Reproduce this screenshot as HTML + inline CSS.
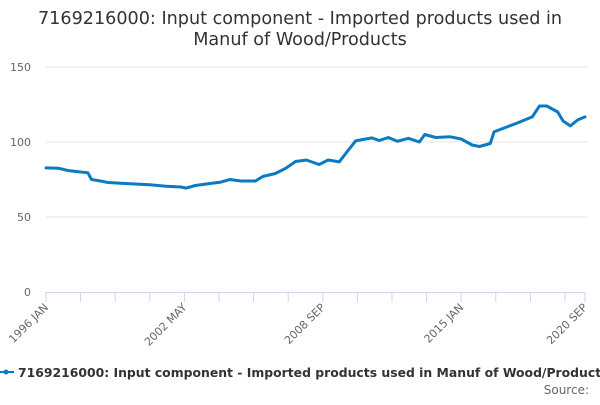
<!DOCTYPE html>
<html><head><meta charset="utf-8"><style>
body{margin:0;background:#fff;}
svg text{font-family:"DejaVu Sans","Liberation Sans",sans-serif;}
</style></head><body>
<svg id="chart" width="600" height="400" xmlns="http://www.w3.org/2000/svg">
<text x="300" y="24" text-anchor="middle" font-size="17.6" fill="#333">7169216000: Input component - Imported products used in</text>
<text x="300" y="45" text-anchor="middle" font-size="17.6" fill="#333">Manuf of Wood/Products</text>
<g id="grid"></g><g id="yticks"></g><g id="xaxis"></g><g id="series"></g>
<g>
<line x1="0" y1="372" x2="14" y2="372" stroke="#0b7bc1" stroke-width="2"/>
<circle cx="6" cy="372" r="2.5" fill="#0b7bc1"/>
<text x="18" y="377" font-size="12.4" font-weight="bold" fill="#333">7169216000: Input component - Imported products used in Manuf of Wood/Products</text>
</g>
<text x="589" y="394" text-anchor="end" font-size="12" fill="#666">Source:</text>
</svg>
<script>
const dates=["1996-01","1996-08","1997-01","1997-08","1997-12","1998-02","1998-07","1998-11","1999-06","2000-02","2000-10","2001-07","2002-03","2002-06","2002-11","2003-05","2004-01","2004-06","2004-12","2005-08","2005-12","2006-07","2007-01","2007-06","2007-12","2008-07","2008-12","2009-06","2009-10","2010-03","2010-12","2011-04","2011-09","2012-02","2012-08","2013-02","2013-05","2013-11","2014-07","2015-01","2015-07","2015-11","2016-05","2016-07","2017-02","2017-08","2018-04","2018-08","2018-12","2019-06","2019-09","2020-01","2020-05","2020-09"];
const values=[82.7,82.5,81,80,79.5,75,74,73,72.5,72,71.5,70.5,70,69.3,71,72,73.3,75,74,74,77,79,82.7,87,88,85,88,86.7,93,100.7,102.7,101,103,100.5,102.5,100,105,103,103.5,102,98,97,99,106.7,110,112.7,116.7,124,124,120,114,110.7,114.7,116.7];
const yTicks=[0,50,100,150];
const xLabels=["1996 JAN","2002 MAY","2008 SEP","2015 JAN","2020 SEP"];
const xLabelMonths=[0,76,152,228,296];
const NS="http://www.w3.org/2000/svg";
const x0=46,x1=585,y0=292,ymax=150,ytop=67,totalM=296;
function mi(d){const[a,b]=d.split("-").map(Number);return (a-1996)*12+(b-1);}
function X(m){return x0+(x1-x0)*m/totalM;}
function Y(v){return y0-(y0-ytop)*v/ymax;}
function mk(t,p,a){const e=document.createElementNS(NS,t);for(const k in a)e.setAttribute(k,a[k]);p.appendChild(e);return e;}
const grid=document.getElementById("grid"),yt=document.getElementById("yticks");
yTicks.forEach(v=>{
 if(v>0){const l=mk("line",grid,{x1:x0,x2:x1+3,y1:Y(v),y2:Y(v),stroke:"#e6e6e6"});
 
 }
 const t=mk("text",yt,{x:31,y:Y(v)+4,"text-anchor":"end","font-size":"11",fill:"#666"});t.textContent=v;
 
 
});
const xa=document.getElementById("xaxis");
const ax=mk("line",xa,{x1:x0,x2:x1,y1:y0+0.5,y2:y0+0.5,stroke:"#ccd6eb"});


const tm=[];for(let m=0;m<totalM;m+=19)tm.push(m);tm.push(totalM);
tm.forEach(m=>{const l=mk("line",xa,{x1:X(m),x2:X(m),y1:y0,y2:y0+10,stroke:"#ccd6eb"});
 
 });
xLabels.forEach((s,i)=>{const x=X(xLabelMonths[i]);const t=mk("text",xa,{x:x+3,y:y0+16,"text-anchor":"end","font-size":"11",fill:"#666",transform:`rotate(-45 ${x+3} ${y0+16})`});t.textContent=s;
 
 });
const s=document.getElementById("series");
const pts=dates.map((d,i)=>X(mi(d)).toFixed(1)+","+Y(values[i]).toFixed(1)).join(" ");
const pl=mk("polyline",s,{points:pts,fill:"none",stroke:"#0b7bc1","stroke-width":"3","stroke-linejoin":"round","stroke-linecap":"round"});


</script>
</body></html>
